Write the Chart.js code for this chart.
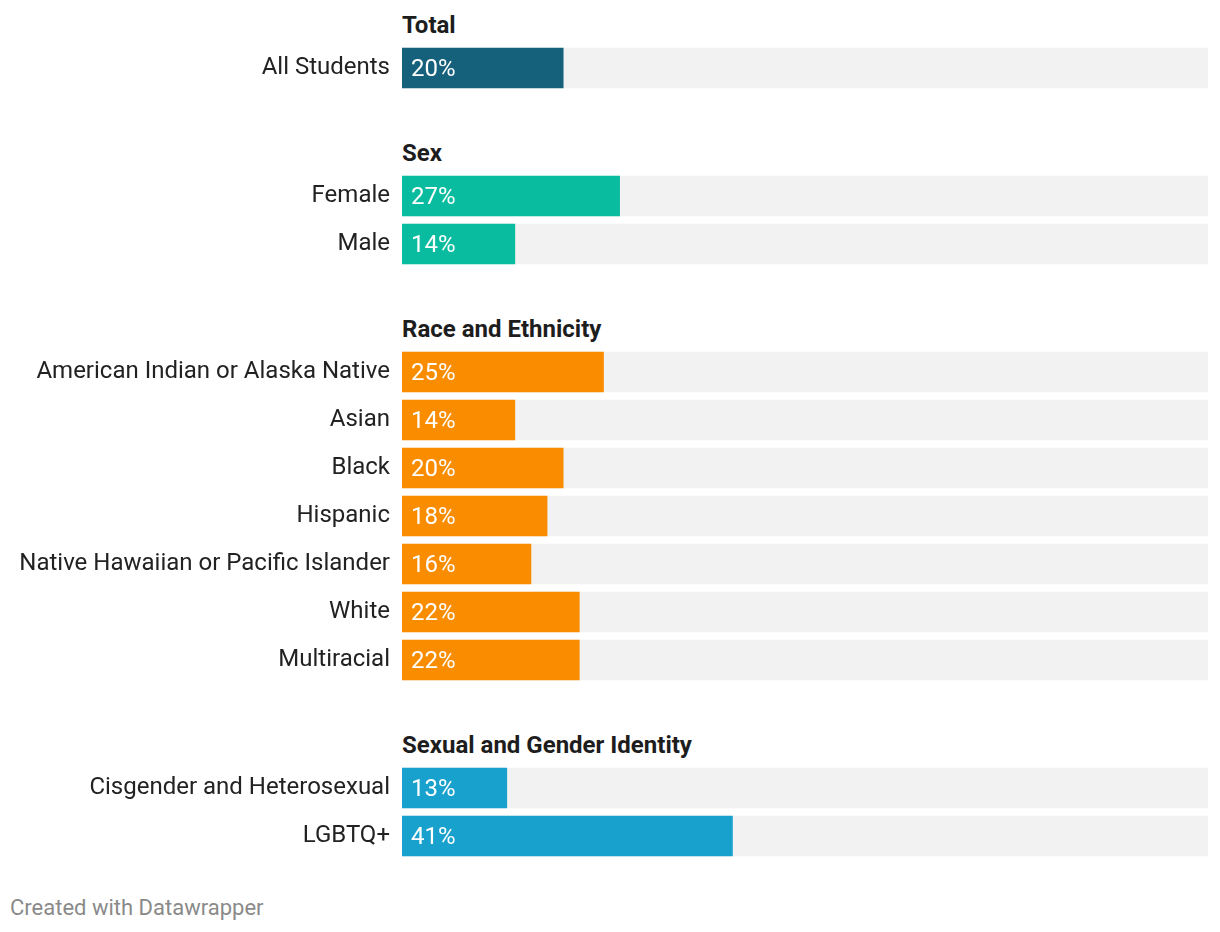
<!DOCTYPE html>
<html>
<head>
<meta charset="utf-8">
<script src="https://cdn.jsdelivr.net/npm/chart.js@4"></script>
<style>
  html, body { margin: 0; padding: 0; background: #fff; }
  #wrap { position: relative; width: 1220px; height: 932px; font-family: Roboto, sans-serif; }
  .head { position: absolute; left: 402px; font-weight: 700; font-size: 24px; color: #1d1d1d; line-height: 28px; }
  .box { position: absolute; left: 0; width: 1220px; }
  #foot { position: absolute; left: 10px; top: 895px; font-size: 22px; color: #8a8a8a; line-height: 26px; }
</style>
</head>
<body>
<div id="wrap">
  <div class="head" style="top:11px">Total</div>
  <div class="box" style="top:44px;height:48px"><canvas id="chart_total"></canvas></div>
  <div class="head" style="top:139px">Sex</div>
  <div class="box" style="top:172px;height:96px"><canvas id="chart_sex"></canvas></div>
  <div class="head" style="top:315px">Race and Ethnicity</div>
  <div class="box" style="top:348px;height:336px"><canvas id="chart_race"></canvas></div>
  <div class="head" style="top:731px">Sexual and Gender Identity</div>
  <div class="box" style="top:764px;height:96px"><canvas id="chart_sgi"></canvas></div>
  <div id="foot">Created with Datawrapper</div>
</div>
<script>
const totalLabels = ['All Students'];
const totalValues = [20];

const sexLabels = ['Female', 'Male'];
const sexValues = [27, 14];

const raceLabels = ['American Indian or Alaska Native', 'Asian', 'Black', 'Hispanic',
    'Native Hawaiian or Pacific Islander', 'White', 'Multiracial'];
const raceValues = [25, 14, 20, 18, 16, 22, 22];

const sgiLabels = ['Cisgender and Heterosexual', 'LGBTQ+'];
const sgiValues = [13, 41];

const trackMax = 100;

// white percent text inside each bar
const valueLabels = {
    id: 'valueLabels',
    afterDatasetsDraw(chart) {
        const ctx = chart.ctx;
        const meta = chart.getDatasetMeta(0);
        ctx.save();
        ctx.font = '24px Roboto';
        ctx.fillStyle = '#ffffff';
        ctx.textAlign = 'left';
        ctx.textBaseline = 'middle';
        meta.data.forEach((bar, i) => {
            ctx.fillText(chart.data.datasets[0].data[i] + '%', bar.base + 9, bar.y + 2);
        });
        ctx.restore();
    }
};

function makeChart(id, labels, values, color) {
    return new Chart(document.getElementById(id), {
        type: 'bar',
        data: {
            labels: labels,
            datasets: [{
                data: values,
                backgroundColor: color,
                barThickness: 40,
                grouped: false,
                order: 0
            }, {
                data: labels.map(() => trackMax),
                backgroundColor: '#f2f2f2',
                barThickness: 40,
                grouped: false,
                order: 1
            }]
        },
        options: {
            indexAxis: 'y',
            responsive: true,
            maintainAspectRatio: false,
            animation: false,
            layout: { padding: { left: 0, right: 12, top: 0, bottom: 0 } },
            plugins: { legend: { display: false }, tooltip: { enabled: false } },
            scales: {
                x: { min: 0, max: trackMax, display: false },
                y: {
                    grid: { display: false, drawTicks: false },
                    border: { display: false },
                    ticks: { font: { family: 'Roboto', size: 24 }, color: '#222', padding: 12 },
                    afterFit: scale => {
                        scale.width = 402;
                        scale.paddingTop = 0;
                        scale.paddingBottom = 0;
                    }
                }
            }
        },
        plugins: [valueLabels]
    });
}

makeChart('chart_total', totalLabels, totalValues, '#15607a');
makeChart('chart_sex', sexLabels, sexValues, '#0abc9f');
makeChart('chart_race', raceLabels, raceValues, '#fa8c00');
makeChart('chart_sgi', sgiLabels, sgiValues, '#18a1cd');
</script>
</body>
</html>
